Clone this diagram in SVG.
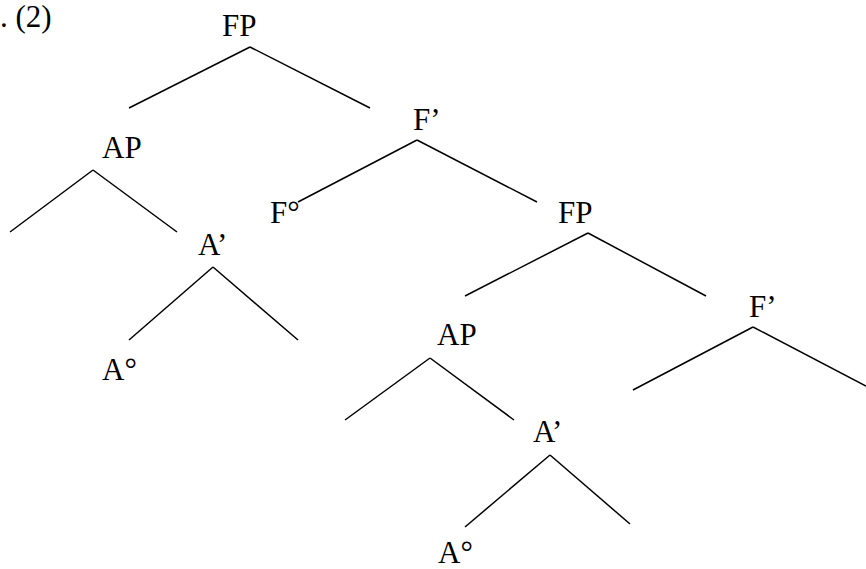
<svg xmlns="http://www.w3.org/2000/svg" width="866" height="569" viewBox="0 0 866 569">
<style>
.t{font-family:'Liberation Serif','Times New Roman','DejaVu Serif',serif;font-size:31px;fill:#000}
.e line{stroke:#000;stroke-width:1.5;stroke-linecap:butt}
</style>
<rect width="866" height="569" fill="#fff"/>
<g class="t" font-family="Liberation Serif, Times New Roman, DejaVu Serif, serif">
<text x="0" y="27">. (2)</text>
<g id="fp1"><text x="222" y="36">FP</text></g>
<g id="f1bar"><text x="413" y="130">F’</text></g>
<g id="ap1"><text x="102" y="158">AP</text></g>
<g id="f1head"><text x="270" y="223">F°</text></g>
<g id="a1bar"><text x="198" y="255">A’</text></g>
<g id="a1head"><text x="102" y="380">A°</text></g>
<g id="fp2"><text x="558" y="223">FP</text></g>
<g id="f2bar"><text x="749" y="317">F’</text></g>
<g id="ap2"><text x="437" y="345">AP</text></g>
<g id="a2bar"><text x="533" y="442">A’</text></g>
<g id="a2head"><text x="438" y="563">A°</text></g>
</g>
<g id="edges" class="e">
<line x1="250" y1="47" x2="129" y2="108"/>
<line x1="250" y1="47" x2="370" y2="108"/>
<line x1="417" y1="140" x2="298" y2="202"/>
<line x1="417" y1="140" x2="537" y2="202"/>
<line x1="93" y1="170" x2="10" y2="232"/>
<line x1="93" y1="170" x2="177" y2="232"/>
<line x1="213" y1="267" x2="129" y2="340"/>
<line x1="213" y1="267" x2="298" y2="340"/>
<line x1="588" y1="233" x2="465" y2="296"/>
<line x1="588" y1="233" x2="706" y2="296"/>
<line x1="430" y1="358" x2="345" y2="420"/>
<line x1="430" y1="358" x2="514" y2="420"/>
<line x1="753" y1="327" x2="633" y2="390"/>
<line x1="753" y1="327" x2="866" y2="386"/>
<line x1="550" y1="455" x2="465" y2="527"/>
<line x1="550" y1="455" x2="630" y2="524"/>
</g>
</svg>
